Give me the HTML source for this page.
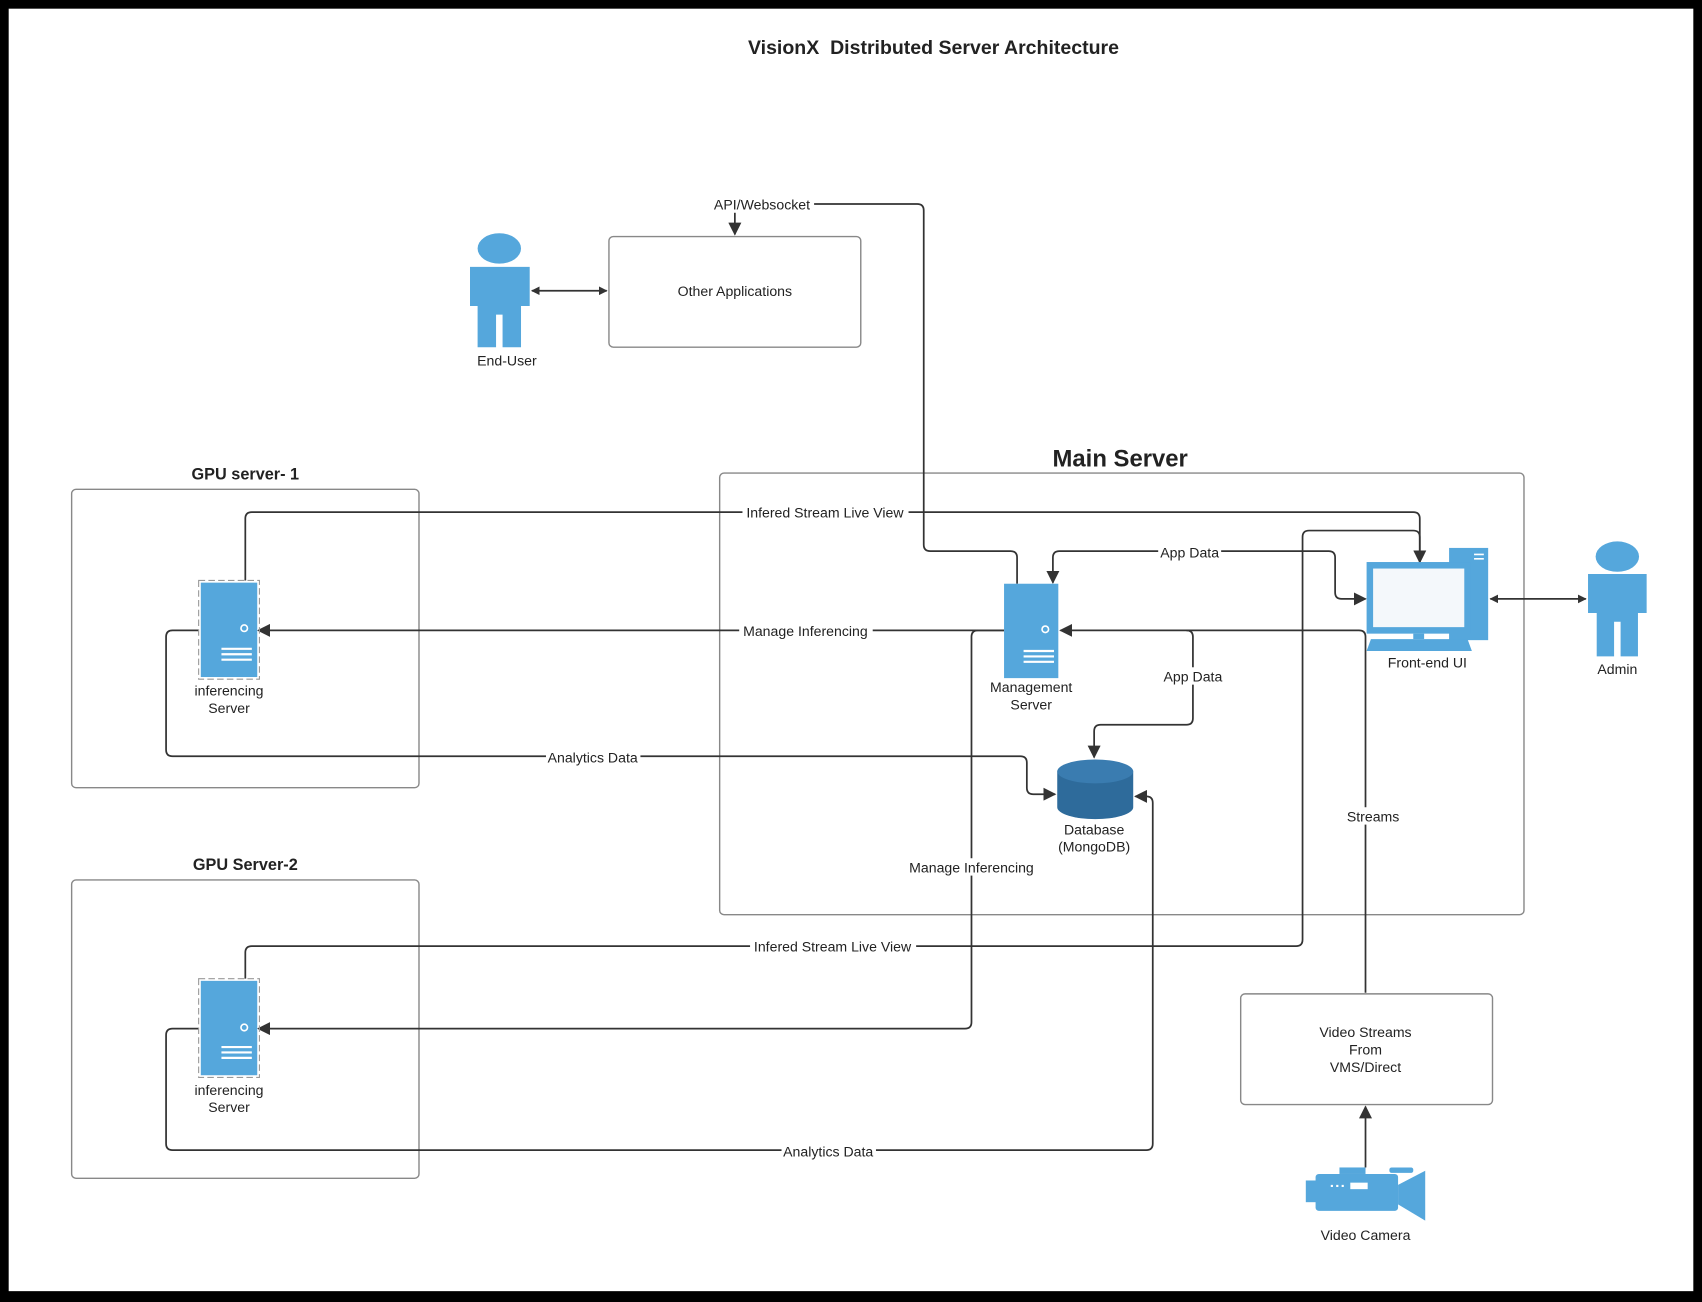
<!DOCTYPE html>
<html><head><meta charset="utf-8"><style>
html,body{margin:0;padding:0;background:#000;}
svg{display:block;}
text{font-family:"Liberation Sans",sans-serif;fill:#222;}
</style></head><body>
<svg width="1702" height="1302" viewBox="0 0 1568 1200" preserveAspectRatio="none" xmlns="http://www.w3.org/2000/svg">
<defs>
<marker id="a" viewBox="0 0 10 10" refX="9" refY="5" markerWidth="8" markerHeight="8" orient="auto-start-reverse" markerUnits="userSpaceOnUse"><path d="M0,0L10,5L0,10z" fill="#333"/></marker>
<marker id="b" viewBox="0 0 10 10" refX="9" refY="5" markerWidth="12" markerHeight="12" orient="auto-start-reverse" markerUnits="userSpaceOnUse"><path d="M0,0L10,5L0,10z" fill="#333"/></marker>
</defs>
<rect x="0" y="0" width="1568" height="1200" fill="#000"/>
<rect x="8" y="8" width="1552" height="1182" fill="#fff"/>

<text x="860" y="50" font-size="18" font-weight="bold" text-anchor="middle" fill="#111">VisionX&#160; Distributed Server Architecture</text>

<!-- boxes -->
<g fill="none" stroke="#888" stroke-width="1.3">
<rect x="561" y="218" width="232" height="102" rx="4"/>
<rect x="663" y="436" width="741" height="407" rx="4"/>
<rect x="66" y="451" width="320" height="275" rx="4"/>
<rect x="66" y="811" width="320" height="275" rx="4"/>
<rect x="1143" y="916" width="232" height="102" rx="4"/>
</g>
<text x="677" y="273" font-size="13" text-anchor="middle">Other Applications</text>
<text x="1032" y="430" font-size="22" font-weight="bold" text-anchor="middle" fill="#111">Main Server</text>
<text x="226" y="442" font-size="15" font-weight="bold" text-anchor="middle" fill="#111">GPU server- 1</text>
<text x="226" y="802" font-size="15" font-weight="bold" text-anchor="middle" fill="#111">GPU Server-2</text>
<text font-size="13" text-anchor="middle"><tspan x="1258" y="956">Video Streams</tspan><tspan x="1258" y="972">From</tspan><tspan x="1258" y="988">VMS/Direct</tspan></text>

<!-- connectors -->
<g fill="none" stroke="#333" stroke-width="1.6">
<line x1="490" y1="268" x2="559" y2="268" marker-start="url(#a)" marker-end="url(#a)"/>
<path d="M677,196 V216" marker-end="url(#b)"/>
<path d="M749,188 H845 Q851,188 851,194 V502 Q851,508 857,508 H931 Q937,508 937,514 V538"/>
<path d="M226,535 V478 Q226,472 232,472 H1302 Q1308,472 1308,478 V518" marker-end="url(#b)"/>
<path d="M226,902 V878 Q226,872 232,872 H1194 Q1200,872 1200,866 V495 Q1200,489 1206,489 H1302 Q1308,489 1308,495 V518" marker-end="url(#b)"/>
<path d="M970,537 V514 Q970,508 976,508 H1224 Q1230,508 1230,514 V546 Q1230,552 1236,552 H1258" marker-start="url(#b)" marker-end="url(#b)"/>
<path d="M925,581 H238" marker-end="url(#b)"/>
<path d="M1258,915 V587 Q1258,581 1252,581 H977" marker-end="url(#b)"/>
<path d="M1093,581 Q1099,581 1099,587 V662 Q1099,668 1093,668 H1014 Q1008,668 1008,674 V698" marker-end="url(#b)"/>
<path d="M183,581 H159 Q153,581 153,587 V691 Q153,697 159,697 H940 Q946,697 946,703 V726 Q946,732 952,732 H972" marker-end="url(#b)"/>
<path d="M925,581 H901 Q895,581 895,587 V942 Q895,948 889,948 H238" marker-end="url(#b)"/>
<path d="M183,948 H159 Q153,948 153,954 V1054 Q153,1060 159,1060 H1056 Q1062,1060 1062,1054 V740 Q1062,734 1056,734 H1046" marker-end="url(#b)"/>
<path d="M1258,1076 V1020" marker-end="url(#b)"/>
<line x1="1373" y1="552" x2="1461" y2="552" marker-start="url(#a)" marker-end="url(#a)"/>
</g>

<!-- connector labels -->
<g font-size="13" text-anchor="middle">
<rect x="654" y="180" width="96" height="16" fill="#fff"/><text x="702" y="193">API/Websocket</text>
<rect x="684" y="464" width="153" height="16" fill="#fff"/><text x="760" y="477">Infered Stream Live View</text>
<rect x="691" y="864" width="153" height="16" fill="#fff"/><text x="767" y="877">Infered Stream Live View</text>
<rect x="1067" y="501" width="58" height="16" fill="#fff"/><text x="1096" y="514">App Data</text>
<rect x="1070" y="615" width="58" height="16" fill="#fff"/><text x="1099" y="628">App Data</text>
<rect x="681" y="573" width="123" height="16" fill="#fff"/><text x="742" y="586">Manage Inferencing</text>
<rect x="834" y="791" width="123" height="16" fill="#fff"/><text x="895" y="804">Manage Inferencing</text>
<rect x="503" y="690" width="87" height="16" fill="#fff"/><text x="546" y="703">Analytics Data</text>
<rect x="720" y="1053" width="87" height="16" fill="#fff"/><text x="763" y="1066">Analytics Data</text>
<rect x="1238" y="744" width="54" height="16" fill="#fff"/><text x="1265" y="757">Streams</text>
</g>

<!-- people -->
<g fill="#55a7dc">
<ellipse cx="460" cy="229" rx="20" ry="14"/>
<path d="M433,246 H488 V282 H480 V320 H463 V290 H457 V320 H440 V282 H433 Z"/>
<ellipse cx="1490" cy="513" rx="20" ry="14"/>
<path d="M1463,529 H1517 V565 H1509 V605 H1493 V573 H1487 V605 H1471 V565 H1463 Z"/>
</g>
<text x="467" y="337" font-size="13" text-anchor="middle">End-User</text>
<text x="1490" y="621" font-size="13" text-anchor="middle">Admin</text>

<!-- inference servers -->
<g>
<rect x="183" y="535" width="56" height="91" fill="none" stroke="#999" stroke-dasharray="6,3"/>
<rect x="185" y="537" width="52" height="87" fill="#55a7dc"/>
<circle cx="225" cy="579" r="3" fill="none" stroke="#fff" stroke-width="1.5"/>
<path d="M204,598 H232 M204,603 H232 M204,608 H232" stroke="#fff" stroke-width="2"/>
<rect x="183" y="902" width="56" height="91" fill="none" stroke="#999" stroke-dasharray="6,3"/>
<rect x="185" y="904" width="52" height="87" fill="#55a7dc"/>
<circle cx="225" cy="947" r="3" fill="none" stroke="#fff" stroke-width="1.5"/>
<path d="M204,965 H232 M204,970 H232 M204,975 H232" stroke="#fff" stroke-width="2"/>
</g>
<text font-size="13" text-anchor="middle"><tspan x="211" y="641">inferencing</tspan><tspan x="211" y="657">Server</tspan></text>
<text font-size="13" text-anchor="middle"><tspan x="211" y="1009">inferencing</tspan><tspan x="211" y="1025">Server</tspan></text>

<!-- management server -->
<rect x="925" y="538" width="50" height="87" fill="#55a7dc"/>
<circle cx="963" cy="580" r="3" fill="none" stroke="#fff" stroke-width="1.5"/>
<path d="M943,600 H971 M943,605 H971 M943,610 H971" stroke="#fff" stroke-width="2"/>
<text font-size="13" text-anchor="middle"><tspan x="950" y="638">Management</tspan><tspan x="950" y="654">Server</tspan></text>

<!-- database -->
<path d="M974,711 V744 A35,11 0 0 0 1044,744 V711 Z" fill="#2e6b9b"/>
<ellipse cx="1009" cy="711" rx="35" ry="11" fill="#3a7cb0"/>
<text font-size="13" text-anchor="middle"><tspan x="1008" y="769">Database</tspan><tspan x="1008" y="785">(MongoDB)</tspan></text>

<!-- front-end UI -->
<rect x="1335" y="505" width="36" height="85" fill="#55a7dc"/>
<path d="M1358,511 H1367 M1358,515 H1367" stroke="#fff" stroke-width="1.5"/>
<rect x="1259" y="518" width="96" height="66" fill="#55a7dc"/>
<rect x="1265" y="524" width="84" height="54" fill="#f4f8fb"/>
<rect x="1302" y="584" width="10" height="5" fill="#55a7dc"/>
<path d="M1263,589 H1352 L1356,600 H1259 Z" fill="#55a7dc"/>
<text x="1315" y="615" font-size="13" text-anchor="middle">Front-end UI</text>

<!-- camera -->
<g fill="#55a7dc">
<rect x="1212" y="1082" width="76" height="34" rx="3"/>
<rect x="1203" y="1088" width="12" height="20"/>
<path d="M1288,1092 L1313,1079 V1125 L1288,1110 Z"/>
<rect x="1280" y="1076" width="22" height="5" rx="2"/>
<rect x="1234" y="1076" width="24" height="6"/>
</g>
<rect x="1244" y="1090" width="16" height="6" fill="#fff"/>
<path d="M1226,1093 h2 M1231,1093 h2 M1236,1093 h2" stroke="#fff" stroke-width="2"/>
<text x="1258" y="1143" font-size="13" text-anchor="middle">Video Camera</text>
</svg>
</body></html>
